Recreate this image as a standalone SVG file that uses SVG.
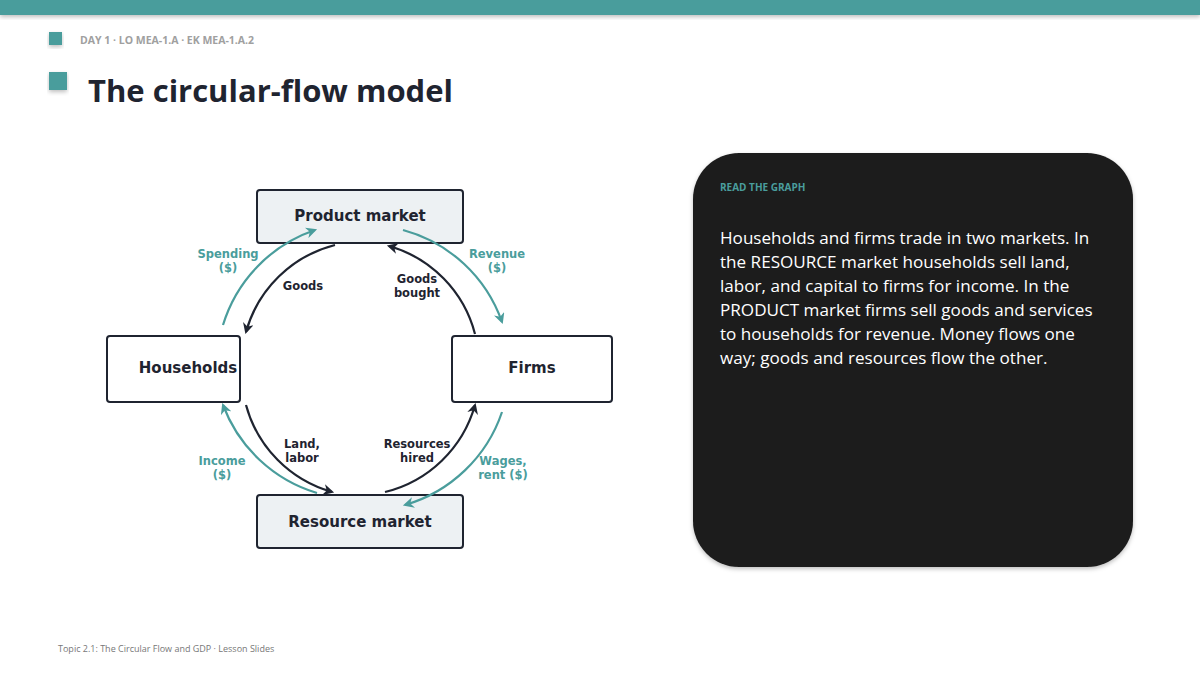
<svg xmlns="http://www.w3.org/2000/svg" width="1200" height="675" viewBox="0 0 1200 675">
<defs>
<marker id="ak" viewBox="0 0 10 10" refX="8" refY="5" markerWidth="5" markerHeight="5" orient="auto"><path d="M0,0 L10,5 L0,10 L3,5 Z" fill="#1f2430"/></marker>
<marker id="at" viewBox="0 0 10 10" refX="8" refY="5" markerWidth="5" markerHeight="5" orient="auto"><path d="M0,0 L10,5 L0,10 L3,5 Z" fill="#4a9d9c"/></marker>
<filter id="sh" x="-10%" y="-10%" width="120%" height="140%"><feDropShadow dx="0" dy="2" stdDeviation="2" flood-opacity="0.25"/></filter>
</defs>
<style>
.box{stroke:#1f2430;stroke-width:2}
.nl{font-family:"DejaVu Sans",sans-serif;font-weight:bold;font-size:15px;fill:#1f2430;text-anchor:middle}
.kl{font-family:"DejaVu Sans",sans-serif;font-weight:bold;font-size:11.5px;fill:#1f2430;text-anchor:middle}
.tl{font-family:"DejaVu Sans",sans-serif;font-weight:bold;font-size:11.5px;fill:#4a9d9c;text-anchor:middle}
.blk{fill:none;stroke:#1f2430;stroke-width:2.2;marker-end:url(#ak)}
.tea{fill:none;stroke:#4a9d9c;stroke-width:2.2;marker-end:url(#at)}
.body{font-family:"Open Sans",sans-serif;font-size:17.1px;fill:#ffffff}
</style>
<rect width="1200" height="675" fill="#ffffff"/>
<rect x="0" y="0" width="1200" height="15" fill="#4a9d9c" filter="url(#sh)"/>
<rect x="49" y="32" width="13" height="13" fill="#4a9d9c" filter="url(#sh)"/>
<text x="80" y="44" font-family="Open Sans, sans-serif" font-size="10.5" font-weight="bold" fill="#a0a0a0">DAY 1 · LO MEA-1.A · EK MEA-1.A.2</text>
<rect x="49" y="72" width="18" height="18" fill="#4a9d9c" filter="url(#sh)"/>
<text x="88" y="102" font-family="Open Sans, sans-serif" font-size="31" font-weight="bold" fill="#1f2430">The circular-flow model</text>

<g id="product"><rect class="box" x="257" y="190" width="206" height="53" rx="3" fill="#edf1f3"/><text class="nl" x="360" y="221">Product market</text></g>
<g id="households"><rect class="box" x="107" y="336" width="133" height="66" rx="3" fill="#ffffff"/><text class="nl" x="188" y="373">Households</text></g>
<g id="firms"><rect class="box" x="452" y="336" width="160" height="66" rx="3" fill="#ffffff"/><text class="nl" x="532" y="373">Firms</text></g>
<g id="resource"><rect class="box" x="257" y="495" width="206" height="53" rx="3" fill="#edf1f3"/><text class="nl" x="360" y="527">Resource market</text></g>

<g id="connectors">
<path class="blk" d="M335,245 A124,124 0 0 0 246,332"/>
<path class="blk" d="M475,334 A124,124 0 0 0 389,246"/>
<path class="blk" d="M246,405 A124,124 0 0 0 332,492"/>
<path class="blk" d="M385,492 A124,124 0 0 0 475,405"/>
<path class="tea" d="M223,325 A145,145 0 0 1 315,230"/>
<path class="tea" d="M403,230 A145,145 0 0 1 502,322"/>
<path class="tea" d="M502,412 A145,145 0 0 1 405,505"/>
<path class="tea" d="M317,493 A145,145 0 0 1 223,405"/>
<text class="kl" x="303" y="290">Goods</text>
<text class="kl" x="417" y="283">Goods</text>
<text class="kl" x="417" y="297">bought</text>
<text class="kl" x="302" y="448">Land,</text>
<text class="kl" x="302" y="462">labor</text>
<text class="kl" x="417" y="448">Resources</text>
<text class="kl" x="417" y="462">hired</text>
<text class="tl" x="228" y="258">Spending</text>
<text class="tl" x="228" y="272">($)</text>
<text class="tl" x="497" y="258">Revenue</text>
<text class="tl" x="497" y="272">($)</text>
<text class="tl" x="222" y="465">Income</text>
<text class="tl" x="222" y="479">($)</text>
<text class="tl" x="503" y="465">Wages,</text>
<text class="tl" x="503" y="479">rent ($)</text>
</g>

<g id="panel">
<rect x="693" y="153" width="440" height="414" rx="46" fill="#1c1c1c" filter="url(#sh)"/>
<text x="720" y="191" font-family="Open Sans, sans-serif" font-size="10" font-weight="bold" fill="#4a9d9c">READ THE GRAPH</text>
<text class="body" x="720" y="244">Households and firms trade in two markets. In</text>
<text class="body" x="720" y="268">the RESOURCE market households sell land,</text>
<text class="body" x="720" y="292">labor, and capital to firms for income. In the</text>
<text class="body" x="720" y="316">PRODUCT market firms sell goods and services</text>
<text class="body" x="720" y="340">to households for revenue. Money flows one</text>
<text class="body" x="720" y="364">way; goods and resources flow the other.</text>
</g>
<text x="58" y="652" font-family="Open Sans, sans-serif" font-size="9" fill="#777777">Topic 2.1: The Circular Flow and GDP · Lesson Slides</text>
</svg>
